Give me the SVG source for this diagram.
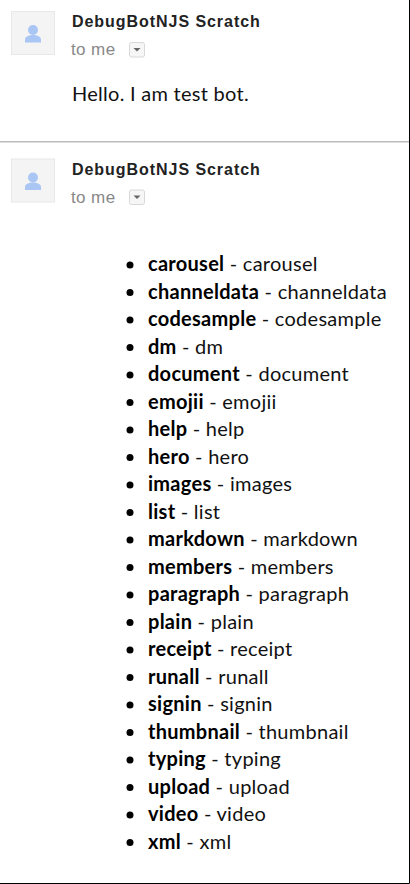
<svg xmlns="http://www.w3.org/2000/svg" width="410" height="884" viewBox="0 0 410 884">
<style>
.n{font:bold 16px "Liberation Sans",Arial,sans-serif;fill:#222;letter-spacing:.95px}
.t{font:17px "Liberation Sans",Arial,sans-serif;fill:#888;letter-spacing:.4px}
.b{font:20px Lato,"Open Sans",sans-serif;fill:#111;letter-spacing:.27px}
.b tspan{font-weight:700;fill:#000}
.av{fill:#f4f4f4;stroke:#e8e8e8;stroke-width:1}
.p{fill:#a9c6f5}
.dd{fill:#f6f6f6;stroke:#d8d8d8;stroke-width:1}
.ar{fill:#666}
.d{fill:#000}
</style>
<rect width="410" height="884" fill="#fff"/>
<defs>
<g id="avatar"><rect class="av" x="11.500" y="11.500" width="43" height="43"/><circle class="p" cx="33" cy="30" r="5"/><path class="p" d="M25 42.500v-3c0-3 4-4.500 8-4.500s8 1.500 8 4.500v3z"/></g>
<g id="dropdown"><rect class="dd" x="129.500" y="42.500" width="15" height="14.500" rx="2"/><path class="ar" d="M133.500 48h7l-3.500 3.500z"/></g>
</defs>
<g id="message1">
<use href="#avatar"/>
<text class="n" x="72" y="27">DebugBotNJS Scratch</text>
<text class="t" x="71" y="55">to me</text>
<use href="#dropdown"/>
<text class="b" x="72" y="101">Hello. I am test bot.</text>
</g>
<rect id="divider" x="0" y="141" width="410" height="1.500" fill="#bbb"/>
<g id="message2">
<use href="#avatar" y="147.500"/>
<text class="n" x="72" y="175">DebugBotNJS Scratch</text>
<text class="t" x="71" y="203">to me</text>
<use href="#dropdown" y="147.500"/>
</g>
<g id="list">
<circle class="d" cx="130" cy="265" r="3.500"/><text class="b" x="148" y="271"><tspan>carousel</tspan> - carousel</text>
<circle class="d" cx="130" cy="292.500" r="3.500"/><text class="b" x="148" y="298.500"><tspan>channeldata</tspan> - channeldata</text>
<circle class="d" cx="130" cy="320" r="3.500"/><text class="b" x="148" y="326"><tspan>codesample</tspan> - codesample</text>
<circle class="d" cx="130" cy="347.500" r="3.500"/><text class="b" x="148" y="353.500"><tspan>dm</tspan> - dm</text>
<circle class="d" cx="130" cy="375" r="3.500"/><text class="b" x="148" y="381"><tspan>document</tspan> - document</text>
<circle class="d" cx="130" cy="402.500" r="3.500"/><text class="b" x="148" y="408.500"><tspan>emojii</tspan> - emojii</text>
<circle class="d" cx="130" cy="430" r="3.500"/><text class="b" x="148" y="436"><tspan>help</tspan> - help</text>
<circle class="d" cx="130" cy="457.500" r="3.500"/><text class="b" x="148" y="463.500"><tspan>hero</tspan> - hero</text>
<circle class="d" cx="130" cy="485" r="3.500"/><text class="b" x="148" y="491"><tspan>images</tspan> - images</text>
<circle class="d" cx="130" cy="512.500" r="3.500"/><text class="b" x="148" y="518.500"><tspan>list</tspan> - list</text>
<circle class="d" cx="130" cy="540" r="3.500"/><text class="b" x="148" y="546"><tspan>markdown</tspan> - markdown</text>
<circle class="d" cx="130" cy="567.500" r="3.500"/><text class="b" x="148" y="573.500"><tspan>members</tspan> - members</text>
<circle class="d" cx="130" cy="595" r="3.500"/><text class="b" x="148" y="601"><tspan>paragraph</tspan> - paragraph</text>
<circle class="d" cx="130" cy="622.500" r="3.500"/><text class="b" x="148" y="628.500"><tspan>plain</tspan> - plain</text>
<circle class="d" cx="130" cy="650" r="3.500"/><text class="b" x="148" y="656"><tspan>receipt</tspan> - receipt</text>
<circle class="d" cx="130" cy="677.500" r="3.500"/><text class="b" x="148" y="683.500"><tspan>runall</tspan> - runall</text>
<circle class="d" cx="130" cy="705" r="3.500"/><text class="b" x="148" y="711"><tspan>signin</tspan> - signin</text>
<circle class="d" cx="130" cy="732.500" r="3.500"/><text class="b" x="148" y="738.500"><tspan>thumbnail</tspan> - thumbnail</text>
<circle class="d" cx="130" cy="760" r="3.500"/><text class="b" x="148" y="766"><tspan>typing</tspan> - typing</text>
<circle class="d" cx="130" cy="787.500" r="3.500"/><text class="b" x="148" y="793.500"><tspan>upload</tspan> - upload</text>
<circle class="d" cx="130" cy="815" r="3.500"/><text class="b" x="148" y="821"><tspan>video</tspan> - video</text>
<circle class="d" cx="130" cy="842.500" r="3.500"/><text class="b" x="148" y="848.500"><tspan>xml</tspan> - xml</text>
</g>
<path id="frame" d="M409.500 0V883.500H0" fill="none" stroke="#000" stroke-width="1"/>
</svg>
